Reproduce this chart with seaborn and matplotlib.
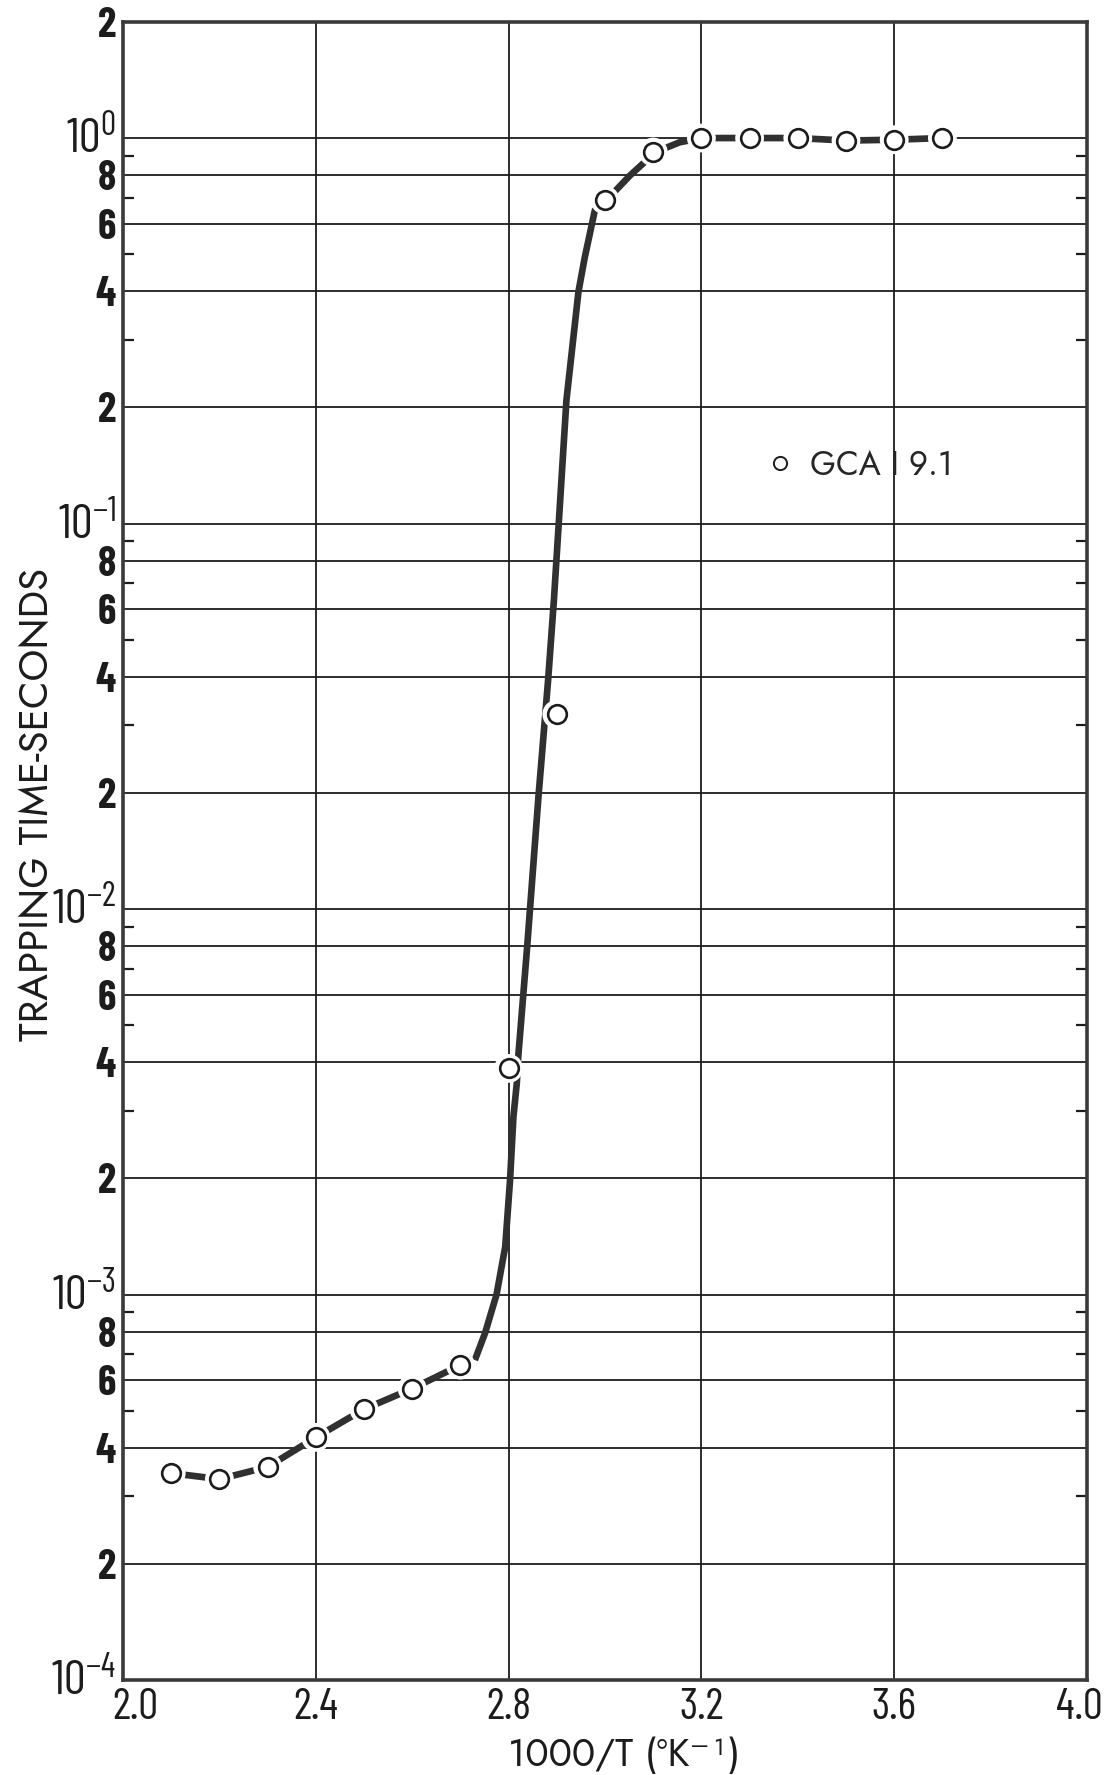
import matplotlib
matplotlib.use("Agg")
import matplotlib.pyplot as plt
import seaborn as sns
import pandas as pd
from matplotlib.ticker import FixedLocator, FixedFormatter, NullFormatter
from matplotlib.lines import Line2D
from matplotlib.transforms import ScaledTranslation

# ---- data ----
inv_temp = [2.1, 2.2, 2.3, 2.4, 2.5, 2.6, 2.7, 2.8, 2.9, 3.0, 3.1, 3.2, 3.3, 3.4, 3.5, 3.6, 3.7]
trap_time = [3.44e-4, 3.32e-4, 3.57e-4, 4.26e-4, 5.04e-4, 5.70e-4, 6.56e-4,
             3.86e-3, 3.2e-2, 0.69, 0.92, 1.0, 1.0, 1.0, 0.985, 0.99, 1.0]

# hand-drawn smooth curve
curve_x = [2.730, 2.751, 2.775, 2.793, 2.803, 2.810, 2.817, 2.820, 2.838, 2.862, 2.882,
           2.894, 2.904, 2.920, 2.945, 2.958, 2.979, 3.003, 3.052, 3.105, 3.155, 3.200,
           3.300, 3.400, 3.500, 3.600, 3.700]
curve_y = [6.76e-4, 7.93e-4, 1.0e-3, 1.33e-3, 1.98e-3, 2.89e-3, 3.53e-3, 4.14e-3, 7.83e-3,
           1.96e-2, 3.93e-2, 6.33e-2, 0.10, 0.209, 0.40, 0.49, 0.65, 0.69, 0.80, 0.92,
           0.975, 1.0, 1.0, 1.0, 0.985, 0.99, 1.0]

low_n = 7  # first seven points joined directly by the line

x_ticks = [2.0, 2.4, 2.8, 3.2, 3.6, 4.0]
x_tick_labels = ["2.0", "2.4", "2.8", "3.2", "3.6", "4.0"]
y_major = [1e-4, 2e-4, 4e-4, 6e-4, 8e-4,
           1e-3, 2e-3, 4e-3, 6e-3, 8e-3,
           1e-2, 2e-2, 4e-2, 6e-2, 8e-2,
           1e-1, 2e-1, 4e-1, 6e-1, 8e-1,
           1.0, 2.0]
y_major_labels = ["$\\mathregular{10^{-4}}$", "2", "4", "6", "8",
                  "$\\mathregular{10^{-3}}$", "2", "4", "6", "8",
                  "$\\mathregular{10^{-2}}$", "2", "4", "6", "8",
                  "$\\mathregular{10^{-1}}$", "2", "4", "6", "8",
                  "$\\mathregular{10^{0}}$", "2"]
y_minor = [3e-4, 5e-4, 7e-4, 9e-4, 3e-3, 5e-3, 7e-3, 9e-3,
           3e-2, 5e-2, 7e-2, 9e-2, 3e-1, 5e-1, 7e-1, 9e-1]
legend_label = "GCA I 9.1"
x_label = "1000/T (ºK⁻¹)"
y_label = "TRAPPING TIME-SECONDS"

# ---- style ----
sns.set_theme(style="white")
tick_fonts = ["Barlow Condensed", "Liberation Sans", "DejaVu Sans"]
label_fonts = ["Jost", "Liberation Sans", "DejaVu Sans"]
plt.rcParams["font.family"] = tick_fonts
plt.rcParams["mathtext.fontset"] = "custom"
plt.rcParams["mathtext.rm"] = "Barlow Condensed"

ink = "#1c1c1c"
line_col = "#303030"

fig = plt.figure(figsize=(11.05, 17.75), dpi=100)
ax = fig.add_axes([123 / 1105, 1 - 1680 / 1775, 964 / 1105, 1658 / 1775])

ax.set_yscale("log")
ax.set_xlim(2.0, 4.0)
ax.set_ylim(1e-4, 2.0)

pts = pd.DataFrame({"x": inv_temp, "y": trap_time})
crv = pd.DataFrame({"x": curve_x, "y": curve_y})

sns.lineplot(data=pts.iloc[:low_n], x="x", y="y", ax=ax, sort=False, estimator=None,
             color=line_col, linewidth=4.8, solid_capstyle="butt", zorder=3)
sns.lineplot(data=crv, x="x", y="y", ax=ax, sort=False, estimator=None,
             color=line_col, linewidth=4.8, solid_capstyle="butt", zorder=3)
# white halo so the line breaks around each circle
sns.scatterplot(data=pts, x="x", y="y", ax=ax, s=430, color="white",
                edgecolor="none", linewidth=0, zorder=4)
sns.scatterplot(data=pts, x="x", y="y", ax=ax, s=180, color="white",
                edgecolor=ink, linewidth=1.9, zorder=5)

# grid / ticks
ax.xaxis.set_major_locator(FixedLocator(x_ticks))
ax.xaxis.set_major_formatter(FixedFormatter(x_tick_labels))
ax.yaxis.set_major_locator(FixedLocator(y_major))
ax.yaxis.set_major_formatter(FixedFormatter(y_major_labels))
ax.yaxis.set_minor_locator(FixedLocator(y_minor))
ax.yaxis.set_minor_formatter(NullFormatter())
ax.xaxis.set_minor_locator(FixedLocator([]))

ax.grid(True, which="major", axis="both", color=ink, linewidth=1.3)
ax.set_axisbelow(True)
ax.tick_params(axis="both", which="major", length=0, colors=ink)
ax.tick_params(axis="y", which="major", labelsize=30, pad=5)
ax.tick_params(axis="x", which="major", labelsize=32, pad=6)
ax.tick_params(axis="y", which="minor", direction="in", length=8, width=1.6,
               left=True, right=True, color=ink)

up = ScaledTranslation(0, 4 / 100, fig.dpi_scale_trans)
for lab, txt in zip(ax.get_yticklabels(), y_major_labels):
    if txt.startswith("$"):
        lab.set_fontweight("normal")
        lab.set_fontsize(35)
        lab.set_transform(lab.get_transform() + up)
    else:
        lab.set_fontweight("bold")

xlabs = ax.get_xticklabels()
xlabs[0].set_transform(xlabs[0].get_transform() + ScaledTranslation(12 / 100, 0, fig.dpi_scale_trans))
xlabs[-1].set_transform(xlabs[-1].get_transform() + ScaledTranslation(-8 / 100, 0, fig.dpi_scale_trans))

for sp in ax.spines.values():
    sp.set_visible(True)
    sp.set_color("#3a3a3a")
    sp.set_linewidth(2.6)

ax.set_xlabel(x_label, fontsize=28, color=ink, family=label_fonts, va="center")
ax.xaxis.set_label_coords(0.52, -0.045)
ax.set_ylabel(y_label, fontsize=29, color=ink, va="center", family=label_fonts)
ax.yaxis.set_label_coords(-0.089, 0.528)

handle = Line2D([], [], marker="o", linestyle="", markersize=9.5,
                markerfacecolor="white", markeredgecolor=ink, markeredgewidth=1.4)
ax.legend([handle], [legend_label], loc="center left", bbox_to_anchor=(0.668, 0.733),
          frameon=False, handlelength=0.8, handletextpad=0.5,
          borderpad=0, borderaxespad=0,
          prop={"family": label_fonts, "size": 24})

fig.savefig("out.png", dpi=100, facecolor="white")
